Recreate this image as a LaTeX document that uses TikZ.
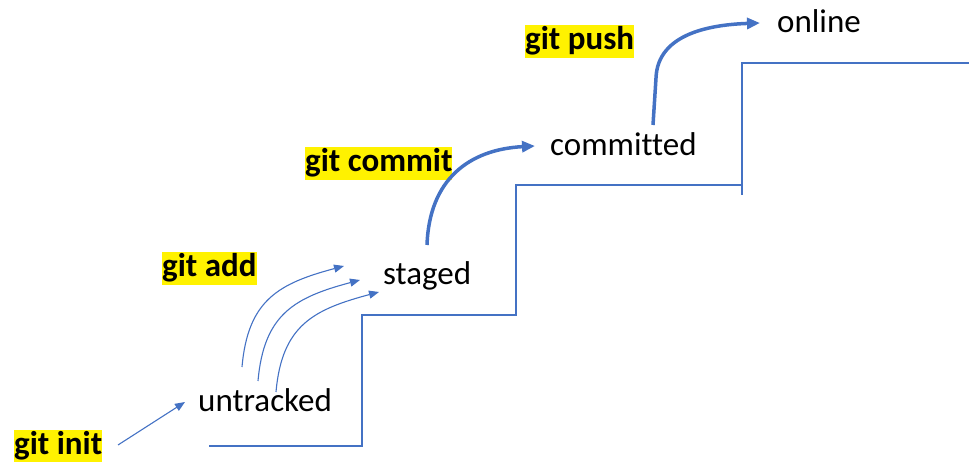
\documentclass[tikz,border=0pt]{standalone}
\usepackage{fontspec}
\setmainfont[Ligatures=NoCommon]{Carlito}
\usetikzlibrary{arrows.meta, calc, positioning}
\definecolor{stairblue}{HTML}{4472C4}
\newcommand{\bigtext}{\fontsize{33}{40}\selectfont}
\tikzstyle{state} = [inner sep=0pt, anchor=base west]
\tikzstyle{cmd} = [fill=yellow, font=\bigtext\bfseries, inner xsep=0pt,
    inner ysep=0pt, text height=25pt, text depth=8pt, anchor=base west]
\tikzstyle{stair} = [draw=stairblue, line width=1.1pt]
\tikzstyle{thin} = [-{Triangle[length=10pt,width=8pt]}, stairblue, line width=1.1pt]
\tikzstyle{thick} = [-{Triangle[length=13pt,width=11pt]}, stairblue, line width=3.5pt]

\begin{document}
\begin{tikzpicture}[x=1pt, y=1pt, font=\bigtext]
  \useasboundingbox (0,0) rectangle (969,462);
  % Place the nodes
  \node [state] (untracked) at (198,50) {untracked};
  \node [state] (staged) at (383,177) {staged};
  \node [state] (committed) at (550,306) {committed};
  \node [state] (online) at (777,429) {online};
  \node [cmd] (init) at (14,7) {git init};
  \node [cmd] (add) at (162,185) {git add};
  \node [cmd] (commit) at (305,290) {git commit};
  \node [cmd] (push) at (525,412) {git push};

  % The stairs
  \draw [stair] (209,16) -| (362,147) -| (516,277) -- (743,277);
  \draw [stair] (742,267) |- (969,399);

  % Arrow ends
  \coordinate (initfoot) at (118,17);
  \coordinate (inittip) at (185,60);
  \coordinate (addfootA) at (242,95);
  \coordinate (addfootB) at (258,81);
  \coordinate (addfootC) at (276,70);
  \coordinate (addtipA) at (344,196);
  \coordinate (addtipB) at (360,182);
  \coordinate (addtipC) at (379,170);
  \coordinate (commitfoot) at (427,217);
  \coordinate (committip) at (535,316);
  \coordinate (pushfoot) at (653,337);
  \coordinate (pushtip) at (760,439);

  % Connect the nodes
  \draw [thin] (initfoot) -- (inittip);
  \draw [thin] (addfootA) to[out=85, in=195, looseness=1.2] (addtipA);
  \draw [thin] (addfootB) to[out=85, in=195, looseness=1.2] (addtipB);
  \draw [thin] (addfootC) to[out=85, in=195, looseness=1.2] (addtipC);
  \draw [thick] (commitfoot) to[out=88, in=183, looseness=1.15] (committip);
  \draw [thick] (pushfoot) -- ++(3,47) to[out=88, in=182] (pushtip);
\end{tikzpicture}
\end{document}
